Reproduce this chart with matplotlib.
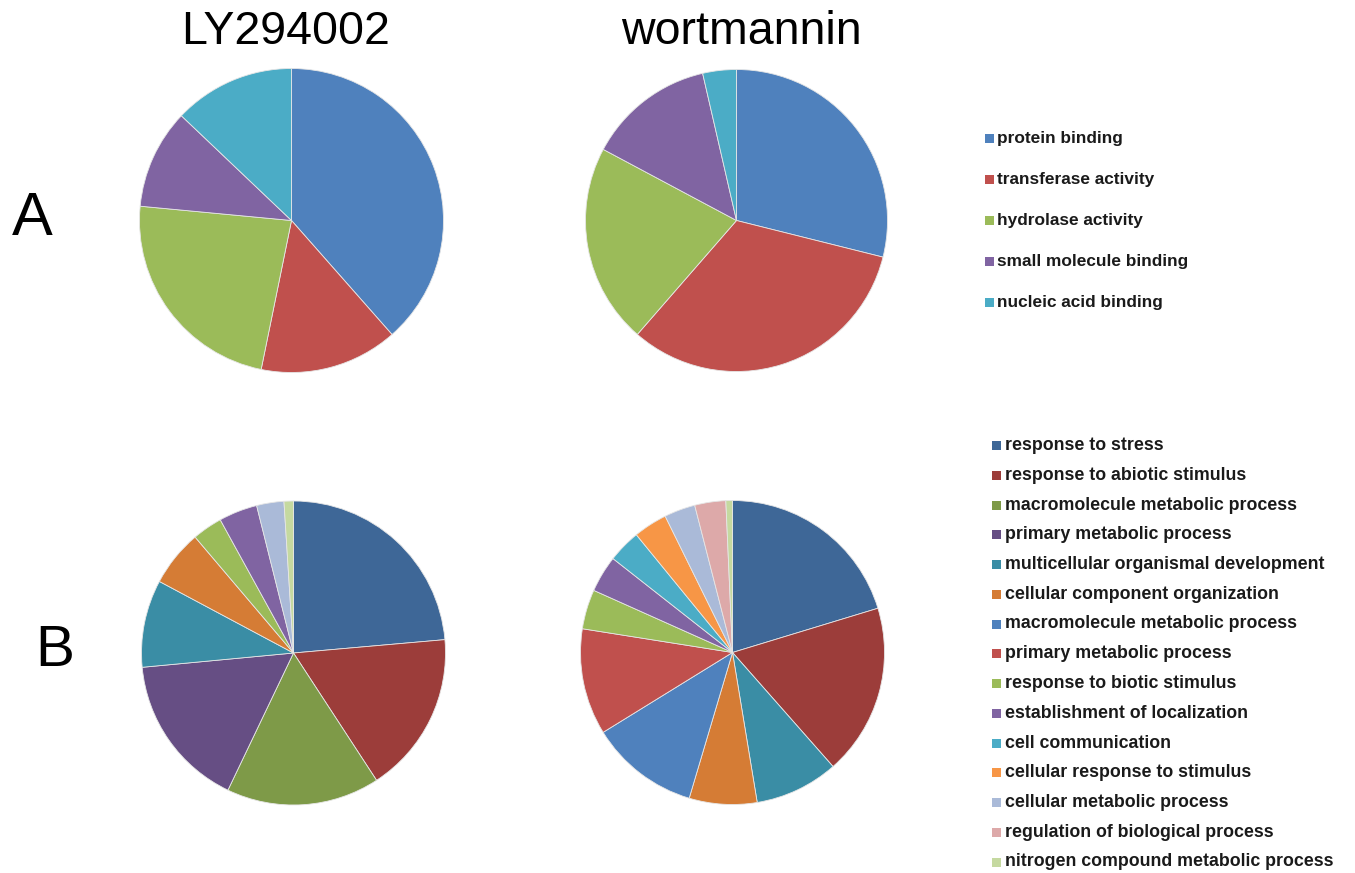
import matplotlib
matplotlib.use("Agg")
import matplotlib.pyplot as plt
from matplotlib.patches import Rectangle

W, H = 1355, 873

# ---- data -------------------------------------------------------------
conditions = ["LY294002", "wortmannin"]

mf_terms = ["protein binding", "transferase activity", "hydrolase activity",
            "small molecule binding", "nucleic acid binding"]
mf_colors = ["#4F81BD", "#C0504D", "#9BBB59", "#8064A2", "#4BACC6"]
mf_ly = [38.5, 14.7, 23.3, 10.6, 12.9]
mf_wort = [28.9, 32.5, 21.4, 13.6, 3.6]

bp_terms = ["response to stress", "response to abiotic stimulus",
            "macromolecule metabolic process", "primary metabolic process",
            "multicellular organismal development", "cellular component organization",
            "macromolecule metabolic process", "primary metabolic process",
            "response to biotic stimulus", "establishment of localization",
            "cell communication", "cellular response to stimulus",
            "cellular metabolic process", "regulation of biological process",
            "nitrogen compound metabolic process"]
bp_colors = ["#3E6797", "#9C3D3A", "#7E9A48", "#664E84", "#3A8DA5", "#D57C35",
             "#4F81BD", "#C0504D", "#9BBB59", "#8064A2", "#4BACC6", "#F79646",
             "#AABAD8", "#DDA9A9", "#C5D9A0"]
# slice values per legend entry (0 = term absent in that treatment)
bp_ly = [23.6, 17.2, 16.3, 16.4, 9.3, 6.0, 0, 0, 3.2, 4.1, 0, 0, 2.9, 0, 1.0]
bp_wort = [20.3, 18.2, 0, 0, 8.9, 7.2, 11.6, 11.3, 4.2, 3.9, 3.5, 3.6, 3.3, 3.3, 0.7]

# ---- layout helpers ---------------------------------------------------
fig = plt.figure(figsize=(W / 100, H / 100), dpi=100)
fig.patch.set_facecolor("white")

overlay = fig.add_axes([0, 0, 1, 1])
overlay.set_xlim(0, W)
overlay.set_ylim(H, 0)
overlay.axis("off")


def pie_axes(cx, cy, r):
    ax = fig.add_axes([(cx - r) / W, (H - cy - r) / H, 2 * r / W, 2 * r / H])
    ax.axis("off")
    return ax


def draw_pie(ax, values, colors):
    vals = [v for v in values if v > 0]
    cols = [c for v, c in zip(values, colors) if v > 0]
    ax.pie(vals, colors=cols, startangle=90, counterclock=False, radius=1.0,
           wedgeprops=dict(edgecolor="#e6e6e6", linewidth=0.6))
    ax.set_xlim(-1, 1)
    ax.set_ylim(-1, 1)


pies = [
    ((291.5, 220.5, 152), mf_ly, mf_colors),
    ((736.5, 220.5, 151), mf_wort, mf_colors),
    ((293.5, 653.0, 152), bp_ly, bp_colors),
    ((732.5, 652.5, 152), bp_wort, bp_colors),
]
for (cx, cy, r), vals, cols in pies:
    draw_pie(pie_axes(cx, cy, r), vals, cols)

# ---- titles and panel letters ----------------------------------------
title_font = dict(family="Liberation Sans", fontsize=33.5, color="black")
overlay.text(286, 44, conditions[0], ha="center", va="baseline", **title_font)
overlay.text(741.5, 44, conditions[1], ha="center", va="baseline", **title_font)
overlay.text(32, 235, "A", ha="center", va="baseline",
             family="Liberation Sans", fontsize=44)
overlay.text(54.5, 666, "B", ha="center", va="baseline",
             family="Liberation Sans", fontsize=42)

# ---- legends ----------------------------------------------------------
leg_top = dict(family="Liberation Sans", fontweight="bold", fontsize=12.4,
               color="#1a1a1a", va="center", ha="left")
leg_bot = dict(leg_top, fontsize=12.8)

for i, (term, col) in enumerate(zip(mf_terms, mf_colors)):
    y = 138.5 + i * 41
    overlay.add_patch(Rectangle((985, y - 4.5), 9, 9, color=col, lw=0))
    overlay.text(997, y, term, **leg_top)

for i, (term, col) in enumerate(zip(bp_terms, bp_colors)):
    y = 445.5 + i * 29.75
    overlay.add_patch(Rectangle((992, y - 4.5), 9, 9, color=col, lw=0))
    overlay.text(1005, y, term, **leg_bot)

fig.savefig("out.png", dpi=100, facecolor="white")
